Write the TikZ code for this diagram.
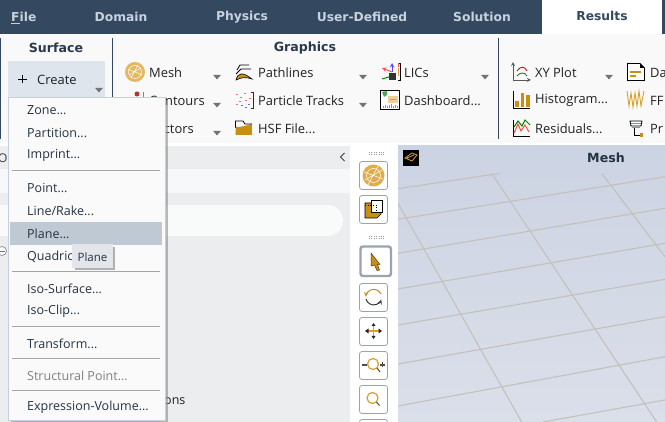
\documentclass[tikz,border=0pt]{standalone}
\usepackage{fontspec}
\setmainfont{Open Sans}
\newfontfamily\headfont{DejaVu Sans}
\definecolor{hdr}{HTML}{34495F}
\definecolor{tabtx}{HTML}{C8D2DE}
\definecolor{rib}{HTML}{F9F9F9}
\definecolor{sepc}{HTML}{34495F}
\definecolor{gold}{HTML}{D9A02B}
\definecolor{dgold}{HTML}{C98F12}
\definecolor{menuc}{HTML}{FAFAFA}
\definecolor{mbord}{HTML}{C5CFDF}
\definecolor{msep}{HTML}{A6A6A6}
\definecolor{hl}{HTML}{BFC9D4}
\definecolor{panel}{HTML}{ECEDEF}
\definecolor{gridc}{HTML}{C4C1BA}
\definecolor{btn}{HTML}{98A4B0}
\definecolor{txt}{HTML}{222222}
\definecolor{vtop}{HTML}{CCD3E2}
\definecolor{vbot}{HTML}{DBDFEA}
\definecolor{createbg}{HTML}{DFE5ED}
\definecolor{tipbg}{HTML}{E2E6EB}
\tikzset{
  tabl/.style={text=tabtx,font=\headfont\fontsize{12.3}{14}\selectfont\bfseries,inner sep=0pt},
  grouph/.style={text=hdr!80!black,font=\headfont\fontsize{12.6}{14}\selectfont\bfseries,inner sep=0pt},
  ribt/.style={text=txt,font=\fontsize{12.9}{14}\selectfont,anchor=west,inner sep=0pt,yshift=-0.5pt},
  mitem/.style={text=hdr!70!black,font=\fontsize{12.5}{14}\selectfont,anchor=west,inner sep=0pt,yshift=-0.7pt},
  msepl/.style={draw=msep,line width=0.8pt},
  vsep/.style={draw=sepc,line width=0.9pt},
  ddarrow/.style={fill=black!55,draw=none},
  tbtn/.style={draw=btn,line width=0.8pt,fill=white,rounded corners=2.5pt},
  gridl/.style={draw=gridc,line width=1.1pt},
  grip/.style={draw=black!40,line width=0.8pt,dash pattern=on 1pt off 1.4pt},
}
\newcommand{\dropmark}[2]{\fill[ddarrow] (#1-4,#2-2.2) -- (#1+4,#2-2.2) -- (#1,#2+2.4) -- cycle;}
\begin{document}
\begin{tikzpicture}[x=1pt,y=-1pt]
\useasboundingbox (0,0) rectangle (665,422);
% ---- base
\fill[white] (0,0) rectangle (665,422);
\fill[hdr] (0,0) rectangle (665,34);
\fill[white] (542,0) rectangle (662,34);
\fill[rib] (0,34) rectangle (665,143);
\fill[panel] (0,146) rectangle (350,422);
\fill[white!60!panel] (0,169) rectangle (350,193);
\fill[white!70!panel,rounded corners=15pt] (-20,205) rectangle (343,236);
% ---- viewport
\shade[top color=vtop,bottom color=vbot] (398,146) rectangle (665,422);
\draw[gridl] (398,188.7) -- (500,173.3);
\draw[gridl] (398,219.3) -- (665,176.7);
\draw[gridl] (398,253.3) -- (665,208.3);
\draw[gridl] (398,289) -- (665,243.3);
\draw[gridl] (398,325) -- (665,279.3);
\draw[gridl] (398,364) -- (665,316.7);
\draw[gridl] (398,406) -- (665,356.7);
\draw[gridl] (543.3,422) -- (665,400);
\draw[gridl] (398,203.3) -- (521.7,422);
\draw[gridl] (491.7,173.3) -- (656.7,422);
\draw[gridl] (601.7,173.3) -- (665,256.7);
\fill[black] (403,150) rectangle (419,166);
\draw[gold,line width=0.8pt] (405,158) -- (412,153) -- (417,155) -- (412,161) -- cycle (407,158) -- (414,155);
\node[grouph,text=hdr!70!black] (meshtitle) at (606,158) {Mesh};
% ---- tabs
\node[tabl,anchor=west] (file) at (11,18) {\underline{F}ile};
\node[tabl] (domain) at (121,17) {Domain};
\node[tabl] (physics) at (242,17) {Physics};
\node[tabl] (userdef) at (362,17) {User-Defined};
\node[tabl] (solution) at (482,17) {Solution};
\node[tabl,text=hdr] (results) at (602,16) {Results};
% ---- ribbon separators and group titles
\draw[vsep] (0.4,38) -- (0.4,139);
\draw[vsep] (112.5,38) -- (112.5,139);
\draw[vsep] (498.5,38) -- (498.5,139);
\node[grouph] (surface) at (56,48) {Surface};
\node[grouph] (graphics) at (305,48) {Graphics};
% create button
\fill[createbg] (8,61) rectangle (105,97);
\draw[black,line width=1.5pt] (22.5,75) -- (22.5,83.5) (18,79.3) -- (27,79.3);
\node[ribt] (create) at (37,79) {Create};
\dropmark{99}{90}
% ---- ribbon texts
\node[ribt] (mesh) at (149,72) {Mesh};
\node[ribt] (contours) at (149,100) {Contours};
\node[ribt] (vectors) at (149,128) {Vectors};
\dropmark{217}{77}\dropmark{217}{105}\dropmark{217}{133}
\node[ribt] (pathl) at (258,72) {Pathlines};
\node[ribt] (partt) at (258,100) {Particle Tracks};
\node[ribt] (hsf) at (258,128) {HSF File...};
\dropmark{363}{77}\dropmark{363}{105}
\node[ribt] (lics) at (404,72) {LICs};
\node[ribt] (dash) at (404,100) {Dashboard...};
\dropmark{485}{77}
\node[ribt] (xy) at (535,72) {XY Plot};
\node[ribt] (histo) at (535,100) {Histogram...};
\node[ribt] (resid) at (535,128) {Residuals...};
\dropmark{609}{77}
\node[ribt] (da) at (650,72) {Da};
\node[ribt] (ff) at (650,100) {FF};
\node[ribt] (pr) at (650,128) {Pr};
% ---- ribbon icons
% mesh
\fill[gold!75!white] (135,72) circle (10);
\draw[white,line width=0.5pt] (135,72) circle (6.5) (128,69) -- (142,75) (131,78) -- (138,65) (129,75) -- (141,68);
% contours (mostly hidden)
\fill[red!65!black!80] (137,94) circle (2.5);
\draw[red!70,line width=0.8pt] (143,92) -- (143,97) -- (141,97);
% pathlines
\draw[black,line width=0.8pt] (237,70) -- (240,65) -- (249,65) (236,74) -- (241,69) -- (251,69);
\fill[dgold,draw=black,line width=0.6pt] (236,80) .. controls (238,72) and (243,72) .. (252,79) .. controls (246,77) and (242,77) .. (236,80) -- cycle;
% particle tracks
\foreach \xx/\yy/\cc in {236/94/red,240/97/red,244/93/red,239/101/red,245/100/red,248/104/blue,241/105/blue,236/104/red,245/107/blue,249/98/red}{
  \fill[\cc!60!white] (\xx,\yy) rectangle +(2,1.3);}
\draw[black!70!dgold,line width=0.8pt] (251,92) -- (253,92) -- (253,108) -- (251,108);
% folder
\fill[dgold] (235.5,124) rectangle (252,135);
\draw[black,line width=0.7pt,fill=rib] (235.5,128) -- (235.5,121) -- (243,121) -- (245,124) -- (252,124);
\fill[dgold] (235.5,127) -- (250,127) -- (252,135) -- (235.5,135) -- cycle;
% LICs
\draw[red!70,line width=1pt,-stealth] (392,72) -- (382,68);
\draw[green!50!black,line width=1pt] (382,79) -- (392,76);
\draw[blue!70,line width=1pt,-stealth] (392,72) -- (392,63);
\fill[black!80] (389,73) rectangle (396,80);
\draw[black,line width=0.7pt] (398,63) -- (400,63) -- (400,80) -- (398,80);
\draw[red!70,line width=0.8pt] (398,63) -- (398,67);
\draw[gold,line width=0.8pt] (398,68) -- (398,76);
% dashboard
\draw[black,line width=0.8pt,fill=white] (380.5,90.5) rectangle (399.5,109.5);
\fill[gold!50!white] (388,96) rectangle (398,103);
\draw[gold,line width=0.6pt] (390,99.5) -- (396,99.5);
\fill[green!50!black!70] (382,92) -- (387,91) -- (387,95) -- (384,97) -- cycle;
\foreach \xx/\hh in {383/2,385/3,387/2,389/3,391/4,393/2,395/3,397/2}{\fill[dgold] (\xx,108.5) rectangle +(1,-\hh);}
% XY plot
\draw[black!65,line width=0.8pt,-stealth] (513,80) -- (513,62);
\draw[black!65,line width=0.8pt,-stealth] (513,80) -- (531,80);
\draw[red!75!black,line width=0.8pt] (517,71) .. controls (520,66) and (525,66) .. (527,71);
\draw[green!50!black,line width=0.8pt] (517,76) .. controls (520,72) and (525,72) .. (527,76);
% histogram
\draw[black,line width=0.9pt] (513,91) -- (513,108.5) -- (530,108.5);
\fill[dgold] (515,101) rectangle (519,107);
\fill[dgold] (520.5,93) rectangle (524,107);
\fill[dgold] (525.5,95) rectangle (529.5,107);
% residuals
\draw[black,line width=0.9pt] (513,120) -- (513,136) -- (530,136);
\draw[red!70,line width=1pt] (514,133) -- (518,124) -- (521,131) -- (525,125) -- (529,132);
\draw[green!50!black,line width=1pt] (514,127) -- (518,121) -- (522,126) -- (525,120) -- (530,125);
% data
\draw[black,line width=0.9pt,fill=white] (627.5,63.5) -- (640,63.5) -- (644.5,68) -- (644.5,80.5) -- (627.5,80.5) -- cycle;
\fill[black] (640,63.5) -- (644.5,68) -- (640,68) -- cycle;
\fill[dgold] (630,71) rectangle (641,73);
\fill[dgold] (630,75) rectangle (636,77);
% fft
\draw[gold,line width=0.9pt] (627,91) -- (629,106) -- (631,93) -- (633,107) -- (635,93) -- (637,106) -- (639,91) -- (641,106) -- (644,91);
% profile
\draw[black,line width=0.8pt] (630,121) -- (642,121) -- (641,126) -- (631,126) -- cycle;
\fill[dgold] (631,123) rectangle (641,124);
\fill[dgold] (632,127) rectangle (640,128.5);
\draw[black,line width=0.8pt] (634,128) -- (634,135) -- (640,135);
\fill[dgold] (640,133) rectangle (643,137);
% ---- panel details
\node[inner sep=0pt,text=black!75,font=\fontsize{12}{14}\selectfont,anchor=west] (outl) at (-2,158) {Ou};
\draw[black!75,line width=1pt] (344.5,153) -- (340.5,157) -- (344.5,161);
\draw[black!45,line width=0.7pt,fill=white] (2,251) circle (4.5);
\draw[black!55,line width=0.7pt] (0,251) -- (4.5,251);
\node[mitem,text=txt] (ons) at (164,400) {ons};
% ---- menu
\fill[black!45,opacity=0.6] (11,100) rectangle (167.5,422);
\draw[draw=mbord,fill=menuc,line width=0.8pt] (8.5,97) rectangle (165,420.5);
\fill[hl] (10,222) rectangle (162,245);
\node[mitem] (mzone) at (27,109) {Zone...};
\node[mitem] (mpart) at (27,132) {Partition...};
\node[mitem] (mimp) at (27,155) {Imprint...};
\draw[msepl] (12,170.5) -- (160,170.5);
\node[mitem] (mpoint) at (27,187) {Point...};
\node[mitem] (mline) at (27,210) {Line/Rake...};
\node[mitem] (mplane) at (27,233) {Plane...};
\node[mitem] (mquad) at (27,256) {Quadric};
\draw[msepl] (12,271.5) -- (160,271.5);
\node[mitem] (miso) at (27,288) {Iso-Surface...};
\node[mitem] (mclip) at (27,311) {Iso-Clip...};
\draw[msepl] (12,326.5) -- (160,326.5);
\node[mitem] (mtrans) at (27,343) {Transform...};
\draw[msepl] (12,358.5) -- (160,358.5);
\node[mitem,text=black!50] (mstruct) at (27,375) {Structural Point...};
\draw[msepl] (12,390.5) -- (160,390.5);
\node[mitem] (mexpr) at (27,407) {Expression-Volume...};
% tooltip
\fill[black!50,opacity=0.6] (75,247) rectangle (115,270);
\fill[tipbg] (72,244) rectangle (113,268);
\node[mitem,anchor=center,font=\fontsize{11.5}{14}\selectfont] (tip) at (92.5,256) {Plane};
% ---- toolbar
\fill[white] (350,146) rectangle (398,422);
\draw[grip] (369,152.5) -- (385,152.5);
\draw[grip] (369,152.5+84) -- (385,152.5+84);
\draw[grip] (369,154) -- (385,154);
\draw[grip] (369,154+84) -- (385,154+84);
\draw[tbtn] (359.5,161.5) rectangle (387.5,189.5);
\fill[gold!85!white] (373.5,175.5) circle (11);
\draw[white,line width=0.5pt] (373.5,175.5) circle (7) (364,172) -- (383,179) (368,185) -- (378,166) (365,180) -- (382,170);
\draw[tbtn] (359.5,195.5) rectangle (387.5,223.5);
\fill[dgold,draw=black,line width=0.7pt] (365,203) -- (381,203) -- (381,214) -- (377,218) -- (365,218) -- cycle;
\draw[black,line width=0.7pt,fill=white] (371,200.5) rectangle (382,212);
\draw[black,line width=0.7pt,dotted] (365,205) -- (376,205) -- (376,212);
\draw[tbtn,line width=2.4pt] (360.5,246.5) rectangle (391,276);
\fill[dgold,draw=black!60!dgold,line width=0.5pt] (371,253) -- (380,264.5) -- (377.5,264.5) -- (379.5,270) -- (377,270.5) -- (374.5,265) -- (371,266) -- cycle;
\draw[tbtn] (359.5,283.5) rectangle (387.5,311.5);
\draw[dgold,line width=1pt,-stealth] (381,294) arc (-25:-175:8);
\draw[black!80,line width=1pt,-stealth] (366,299) arc (165:20:8);
\draw[tbtn] (359.5,317.5) rectangle (387.5,345.5);
\draw[gold,line width=1.2pt] (373.5,324) -- (373.5,338) (366,331) -- (381,331);
\fill[black!85] (365,331) -- (368.5,328.5) -- (368.5,333.5) -- cycle;
\fill[black!85] (382,331) -- (378.5,328.5) -- (378.5,333.5) -- cycle;
\fill[black!85] (373.5,323) -- (371.5,326) -- (375.5,326) -- cycle;
\fill[black!85] (373.5,339) -- (371.5,336) -- (375.5,336) -- cycle;
\draw[tbtn] (359.5,351.5) rectangle (387.5,379.5);
\draw[gold,line width=1.2pt] (373,364) circle (5.5);
\draw[black!70,line width=1pt] (377,368) -- (380,372);
\draw[black!70,line width=1.1pt] (362,365) -- (367,365) (380,365) -- (385,365) (382.5,362.5) -- (382.5,367.5);
\draw[tbtn] (359.5,385.5) rectangle (387.5,413.5);
\draw[gold,line width=1.2pt] (372.5,398) circle (5.5);
\draw[black!70,line width=1pt] (376.5,402) -- (379.5,405.5);
\draw[tbtn] (359.5,419.5) rectangle (387.5,440);
\end{tikzpicture}
\end{document}
